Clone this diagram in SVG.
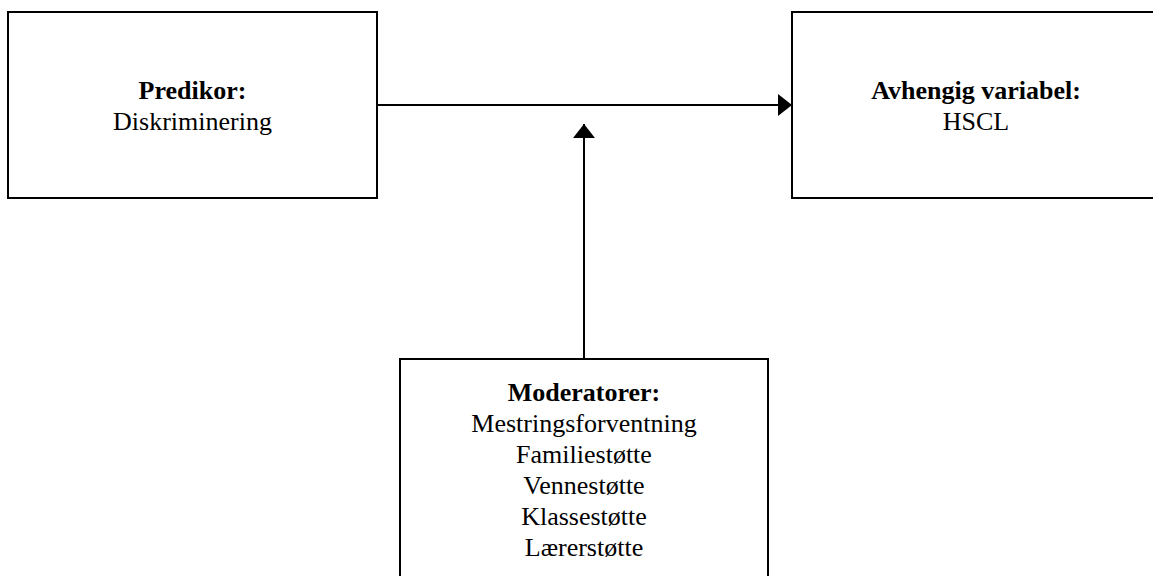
<svg xmlns="http://www.w3.org/2000/svg" width="1153" height="576" viewBox="0 0 1153 576">
  <style>
    .box { fill: #ffffff; stroke: #000000; stroke-width: 2; }
    .edge { stroke: #000000; stroke-width: 2; fill: none; }
    text { font-family: "Liberation Serif", "Times New Roman", serif; font-size: 26px; fill: #000000; text-anchor: middle; }
    .title { font-weight: bold; }
  </style>
  <defs>
    <marker id="arrowhead" viewBox="0 0 14 22" refX="14" refY="11" markerWidth="14" markerHeight="22" markerUnits="userSpaceOnUse" orient="auto">
      <path d="M0,0 L14,11 L0,22 Z" fill="#000000"/>
    </marker>
  </defs>
  <rect width="1153" height="576" fill="#ffffff"/>

  <g id="predictor">
    <rect class="box" x="8" y="12" width="369" height="186"/>
    <text x="192.5" y="99" class="title">Predikor:</text>
    <text x="192.5" y="130">Diskriminering</text>
  </g>

  <g id="outcome">
    <rect class="box" x="792" y="12" width="369" height="186"/>
    <text x="976" y="99" class="title">Avhengig variabel:</text>
    <text x="976" y="130">HSCL</text>
  </g>

  <g id="moderators">
    <rect class="box" x="400" y="359" width="368" height="240"/>
    <text x="584" y="401" class="title">Moderatorer:</text>
    <text x="584" y="432">Mestringsforventning</text>
    <text x="584" y="463">Familiestøtte</text>
    <text x="584" y="494">Vennestøtte</text>
    <text x="584" y="525">Klassestøtte</text>
    <text x="584" y="556">Lærerstøtte</text>
  </g>

  <g id="connectors">
    <line class="edge" x1="377" y1="105" x2="792" y2="105" marker-end="url(#arrowhead)"/>
    <line class="edge" x1="584" y1="359" x2="584" y2="124" marker-end="url(#arrowhead)"/>
  </g>
</svg>
